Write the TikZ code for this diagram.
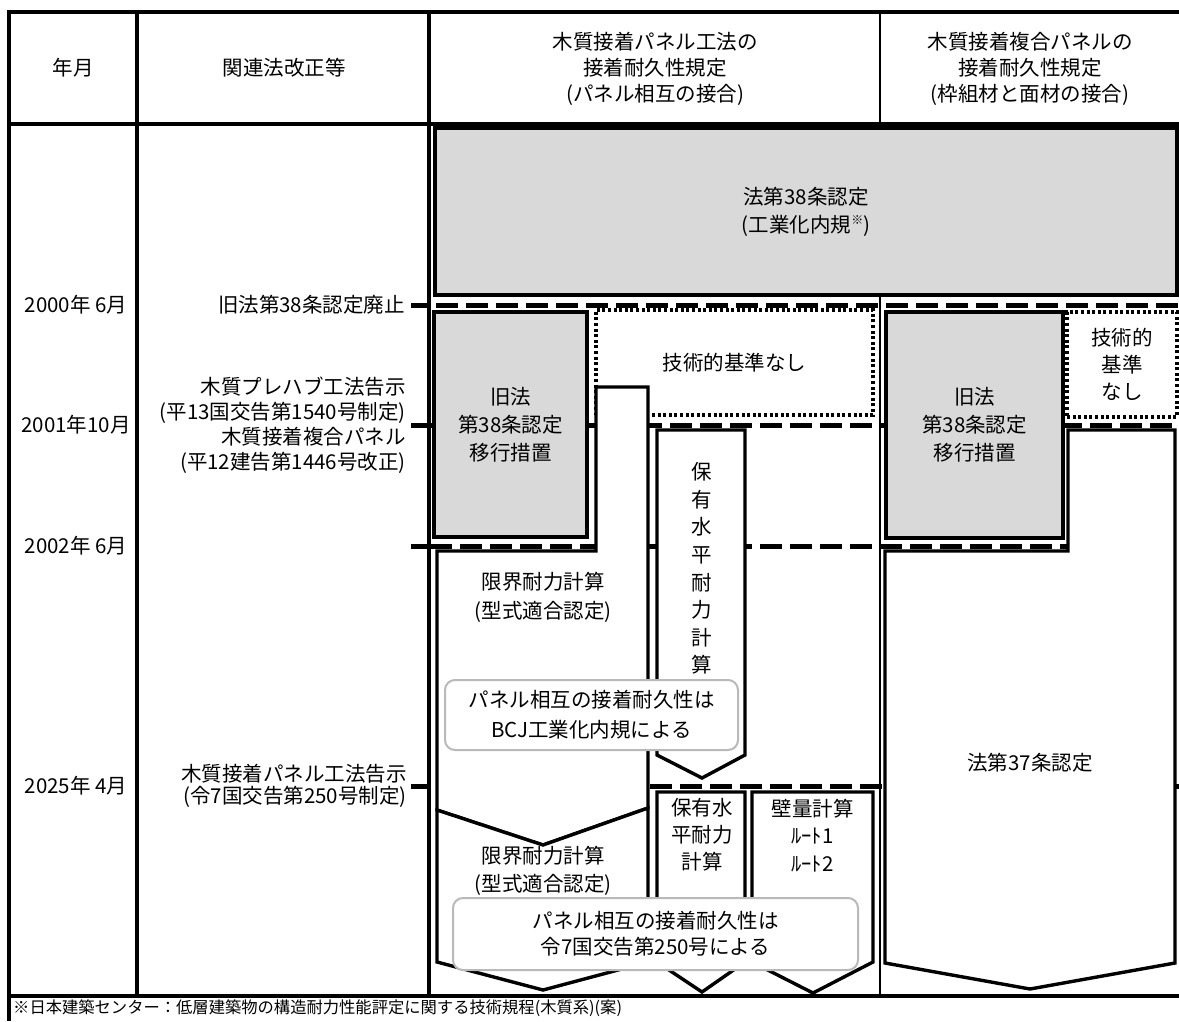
\documentclass[tikz,border=0pt]{standalone}
\usepackage{fontspec}
\setmainfont{Noto Sans CJK JP}
\definecolor{graybox}{RGB}{217,217,217}
\definecolor{callgray}{RGB}{185,185,185}
\begin{document}
\begin{tikzpicture}[x=1pt,y=-1pt,
  frame/.style={line width=3.2pt},
  thinframe/.style={line width=2.2pt},
  dsh/.style={line width=5pt, dash pattern=on 22pt off 8pt},
  dotln/.style={line width=3.4pt, dash pattern=on 3pt off 2.6pt},
  tickln/.style={line width=5pt},
  shp/.style={draw, line width=3.4pt, fill=white, line join=miter},
  gbox/.style={draw, line width=3.4pt, fill=graybox, inner sep=0pt},
  dbox/.style={draw, dotln, inner sep=0pt},
  callout/.style={draw=callgray, line width=2pt, rounded corners=10pt, fill=white, align=center, inner sep=0pt},
  txt/.style={inner sep=0pt, font=\fontsize{20.5}{25}\selectfont, align=center},
]
\useasboundingbox (0,0) rectangle (1179,1021);

% ---- frame ----
\draw[frame] (1179,12) -- (9,12) -- (9,1021);
\draw[frame] (9,124) -- (1179,124);
\draw[frame] (9,996) -- (1179,996);
\draw[frame] (137,12) -- (137,996);
\draw[frame] (429,12) -- (429,996);
\draw[thinframe] (880,12) -- (880,996);

% ---- header ----
\node[txt] (hYM) at (73,68) {年月};
\node[txt] (hLaw) at (284,68) {関連法改正等};
\node[txt, font=\fontsize{20.5}{26}\selectfont] (hC3) at (655,69) {木質接着パネル工法の\\接着耐久性規定\\(パネル相互の接合)};
\node[txt, font=\fontsize{20.5}{26}\selectfont] (hC4) at (1030,69) {木質接着複合パネルの\\接着耐久性規定\\(枠組材と面材の接合)};

% ---- dates ----
\node[txt] (dA) at (76,305) {2000年 6月};
\node[txt] (dB) at (76,425) {2001年10月};
\node[txt] (dC) at (76,546) {2002年 6月};
\node[txt] (dD) at (76,786) {2025年 4月};

% ---- law column ----
\node[txt, anchor=east] (lA) at (405,305) {旧法第38条認定廃止};
\node[txt, anchor=east, align=right, font=\fontsize{20.5}{25}\selectfont] (lB) at (406,425.5) {木質プレハブ工法告示\\(平13国交告第1540号制定)\\木質接着複合パネル\\(平12建告第1446号改正)};
\node[txt, anchor=east, align=right, font=\fontsize{20.5}{22}\selectfont] (lC) at (407,786) {木質接着パネル工法告示\\(令7国交告第250号制定)};

% ---- ticks ----
\draw[tickln] (411,305) -- (429,305);
\draw[tickln] (411,425) -- (429,425);
\draw[tickln] (411,546) -- (429,546);
\draw[tickln] (411,786) -- (429,786);

% ---- dashed time lines ----
\draw[dsh] (436,305) -- (1179,305);
\draw[dsh] (430,425) -- (1179,425);
\draw[dsh] (430,546) -- (1179,546);
\draw[dsh] (650,786) -- (1179,786);

% ---- top gray box ----
\node[gbox, txt, minimum width=742pt, minimum height=167pt, font=\fontsize{20.5}{28}\selectfont] (b38) at (806,211.5) {法第38条認定\\(工業化内規\raisebox{.35em}{\fontsize{12}{12}\selectfont ※})};

% ---- column 3 ----
\node[dbox, txt, minimum width=277pt, minimum height=105pt] (nt3) at (734.5,362.5) {技術的基準なし};
\node[gbox, txt, minimum width=153pt, minimum height=225pt, font=\fontsize{20.5}{28}\selectfont] (ik3) at (510.5,424.5) {旧法\\第38条認定\\移行措置};

\draw[shp] (596,387) -- (648,387) -- (648,808) -- (543,845) -- (437,810) -- (437,551) -- (596,551) -- cycle;
\node[txt, font=\fontsize{20.5}{29}\selectfont] (gA) at (543,597.5) {限界耐力計算\\(型式適合認定)};

\draw[shp] (657,430) -- (745,430) -- (745,755) -- (702,778) -- (657,755) -- cycle;
\node[txt, font=\fontsize{20.5}{27.6}\selectfont] (hB) at (702,568.5) {保\\有\\水\\平\\耐\\力\\計\\算};

\node[callout, minimum width=293pt, minimum height=70pt, font=\fontsize{20.5}{30}\selectfont] (c1) at (591.5,715) {パネル相互の接着耐久性は\\BCJ工業化内規による};

\draw[shp] (437,810) -- (543,845) -- (648,808) -- (648,962) -- (543,990) -- (437,962) -- cycle;
\node[txt, font=\fontsize{20.5}{28}\selectfont] (gC) at (543,871) {限界耐力計算\\(型式適合認定)};

\draw[shp] (657,792) -- (745,792) -- (745,962) -- (702,992) -- (657,962) -- cycle;
\node[txt, font=\fontsize{20.5}{27}\selectfont] (hD) at (702,835) {保有水\\平耐力\\計算};

\draw[shp] (752,792) -- (873,792) -- (873,962) -- (813,993) -- (752,962) -- cycle;
\node[txt, font=\fontsize{20.5}{27.5}\selectfont] (wE) at (812.5,835.5) {壁量計算\\ﾙｰﾄ1\\ﾙｰﾄ2};

\node[callout, minimum width=405pt, minimum height=72pt, font=\fontsize{20.5}{26}\selectfont] (c2) at (655.5,934) {パネル相互の接着耐久性は\\令7国交告第250号による};

% ---- column 4 ----
\node[gbox, txt, minimum width=177pt, minimum height=226pt, font=\fontsize{20.5}{28}\selectfont] (ik4) at (974.5,425) {旧法\\第38条認定\\移行措置};
\node[dbox, txt, minimum width=110pt, minimum height=105pt, font=\fontsize{20.5}{27}\selectfont] (nt4) at (1122,364.5) {技術的\\基準\\なし};

\draw[shp] (1068,430) -- (1175,430) -- (1175,963) -- (1030,989) -- (885,963) -- (885,551) -- (1068,551) -- cycle;
\node[txt] (f37) at (1030,763) {法第37条認定};

% ---- footnote ----
\node[inner sep=0pt, anchor=west, font=\fontsize{16.3}{18}\selectfont] (fn) at (13,1008) {※日本建築センター：低層建築物の構造耐力性能評定に関する技術規程(木質系)(案)};
\end{tikzpicture}
\end{document}
